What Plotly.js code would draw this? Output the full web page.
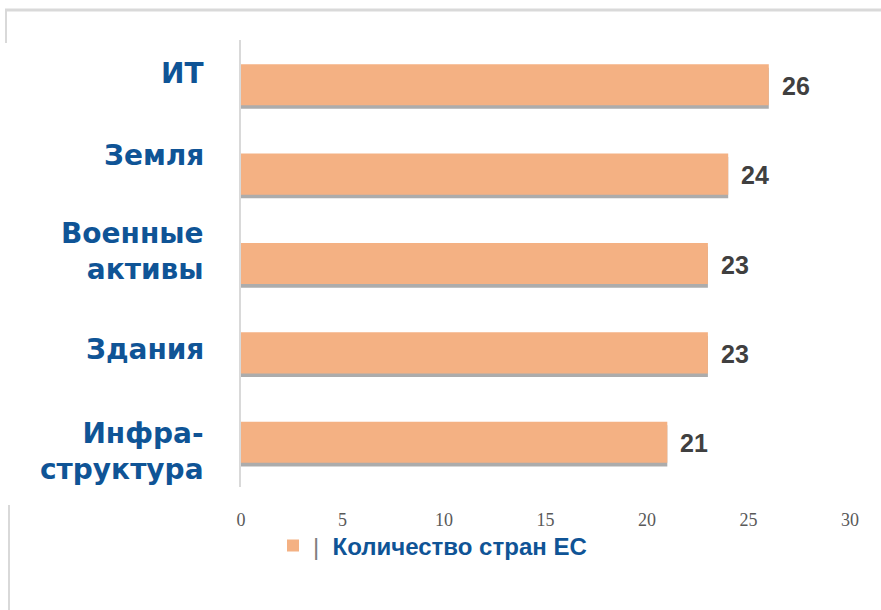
<!DOCTYPE html>
<html>
<head>
<meta charset="utf-8">
<script src="https://cdn.plot.ly/plotly-3.0.1.min.js"></script>
<style>html,body{margin:0;padding:0;background:#fff;}#chart{width:881px;height:610px;}</style>
</head>
<body>
<div id="chart"></div>
<script>
// Data
var categories = ['ИТ', 'Земля', 'Военные<br>активы', 'Здания', 'Инфра-<br>структура'];
var values = [26, 24, 23, 23, 21];
var seriesName = 'Количество стран ЕС';
var tickValues = [0, 5, 10, 15, 20, 25, 30];
var tickLabels = ['0', '5', '10', '15', '20', '25', '30'];

// Styles
var labelShifts = [11, 19, 12, 3, -9];
var barColor = '#F4B183';
var labelBlue = '#0F5496';
var narrow = '"Liberation Sans Narrow", "Arial Narrow", "Liberation Sans", Arial, sans-serif';

var shadow = {
  type: 'bar', orientation: 'h',
  x: values, y: categories,
  width: 0.46, offset: -0.23 + 0.04,
  marker: {color: 'rgba(70,70,70,0.45)', line: {width: 0}},
  showlegend: false, hoverinfo: 'skip'
};
var main = {
  type: 'bar', orientation: 'h',
  x: values, y: categories,
  width: 0.46, offset: -0.23,
  name: '<span style="color:#7f7f7f;font-weight:normal">|</span>  ' + seriesName,
  marker: {color: barColor, line: {width: 0}},
  hoverinfo: 'x+y'
};

var annotations = [];
categories.forEach(function (c, i) {
  annotations.push({
    xref: 'paper', yref: 'y', x: -0.057, y: c,
    xanchor: 'right', yanchor: 'middle', align: 'right',
    yshift: labelShifts[i],
    text: '<b>' + c + '</b>', showarrow: false,
    font: {family: '"DejaVu Sans", Verdana, sans-serif', size: 28, color: labelBlue}
  });
  annotations.push({
    xref: 'x', yref: 'y', x: values[i], y: c,
    xanchor: 'left', yanchor: 'middle', xshift: 11, yshift: -1,
    text: '<b>' + values[i] + '</b>', showarrow: false,
    font: {family: narrow, size: 25, color: '#404040'}
  });
});

var px = function (v) { return (v - 241) / 609; };
var py = function (v) { return (487 - v) / 447; };
var frame = {color: '#d9d9d9', width: 3};
var shapes = [
  {type: 'line', xref: 'paper', yref: 'paper', x0: px(5), x1: px(881), y0: py(10), y1: py(10), line: frame},
  {type: 'line', xref: 'paper', yref: 'paper', x0: px(6), x1: px(6), y0: py(10), y1: py(43), line: {color: '#d9d9d9', width: 2}},
  {type: 'line', xref: 'paper', yref: 'paper', x0: px(9), x1: px(9), y0: py(505), y1: py(610), line: {color: '#d9d9d9', width: 2}}
];

var layout = {
  width: 881, height: 610,
  margin: {l: 241, r: 31, t: 40, b: 123},
  paper_bgcolor: '#ffffff', plot_bgcolor: '#ffffff',
  barmode: 'overlay',
  xaxis: {
    range: [0, 30], tickvals: tickValues, ticktext: tickLabels,
    showgrid: false, zeroline: false, showline: false,
    ticks: 'outside', ticklen: 16, tickcolor: 'rgba(0,0,0,0)',
    tickfont: {family: '"Liberation Serif", "Times New Roman", serif', size: 18, color: '#595959'},
    fixedrange: true
  },
  yaxis: {
    type: 'category', autorange: 'reversed',
    showticklabels: false, showgrid: false, zeroline: false,
    showline: true, linecolor: '#d9d9d9', linewidth: 2,
    ticks: '', fixedrange: true
  },
  showlegend: true,
  legend: {
    orientation: 'h', x: px(273), xanchor: 'left', y: py(546), yanchor: 'middle',
    font: {family: narrow, size: 24, color: labelBlue, weight: 'bold'},
    bgcolor: 'rgba(0,0,0,0)'
  },
  annotations: annotations,
  shapes: shapes
};

Plotly.newPlot('chart', [shadow, main], layout, {displayModeBar: false, staticPlot: true});
</script>
</body>
</html>
